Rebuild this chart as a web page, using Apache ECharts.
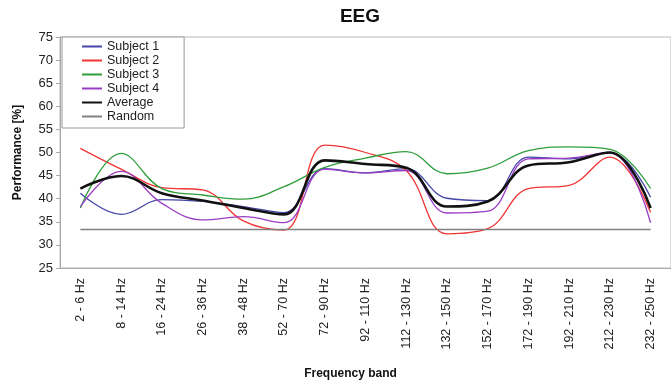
<!DOCTYPE html>
<html><head><meta charset="utf-8">
<script src="https://cdn.jsdelivr.net/npm/echarts@6/dist/echarts.min.js"></script>
<style>html,body{margin:0;padding:0;background:#fff}#c{width:671px;height:385px}</style>
</head><body><div id="c"></div>
<script>
const categories = ['2 - 6 Hz','8 - 14 Hz','16 - 24 Hz','26 - 36 Hz','38 - 48 Hz','52 - 70 Hz','72 - 90 Hz','92 - 110 Hz','112 - 130 Hz','132 - 150 Hz','152 - 170 Hz','172 - 190 Hz','192 - 210 Hz','212 - 230 Hz','232 - 250 Hz'];
const subject1 = [41.2, 36.6, 39.8, 39.4, 38.3, 37.0, 46.5, 45.6, 46.5, 40.1, 39.6, 49.0, 48.6, 50.0, 40.3];
const subject2 = [50.9, 46.4, 42.4, 41.9, 35.2, 33.2, 51.6, 50.0, 46.1, 32.4, 33.5, 42.2, 42.9, 49.0, 37.0];
const subject3 = [38.0, 49.8, 42.2, 40.8, 39.9, 42.6, 46.8, 48.8, 50.2, 45.4, 46.6, 50.4, 51.2, 50.7, 42.2];
const subject4 = [38.3, 45.9, 39.0, 35.4, 36.1, 34.8, 46.4, 45.6, 46.1, 36.9, 37.3, 48.6, 48.8, 50.0, 34.8];
const average  = [42.2, 44.9, 41.2, 39.6, 38.0, 36.6, 48.3, 47.5, 46.7, 38.3, 39.4, 47.2, 47.9, 50.0, 38.0];
const random   = [33.33, 33.33, 33.33, 33.33, 33.33, 33.33, 33.33, 33.33, 33.33, 33.33, 33.33, 33.33, 33.33, 33.33, 33.33];
const yTicks = {min: 25, max: 75, interval: 5};

const chart = echarts.init(document.getElementById('c'));
function line(name, data, color, width, smooth) {
  return {name, type: 'line', data, smooth: smooth, symbol: 'none', showSymbol: false,
    lineStyle: {color, width}, itemStyle: {color}, z: name === 'Average' ? 5 : 3};
}
chart.setOption({
  animation: false,
  backgroundColor: '#fff',
  textStyle: {fontFamily: 'Liberation Sans, Arial, sans-serif'},
  title: {text: 'EEG', left: 355, textAlign: 'center', top: 2,
    textStyle: {fontSize: 19, fontWeight: 'bold', color: '#111', fontFamily: 'Liberation Sans, Arial, sans-serif'}},
  legend: {
    orient: 'vertical', left: 62, top: 37, padding: [3, 25, 5, 19],
    itemWidth: 20, itemHeight: 12, itemGap: 1,
    itemStyle: {opacity: 0},
    backgroundColor: '#fff', borderColor: '#999', borderWidth: 1,
    textStyle: {fontSize: 12.5, color: '#222', lineHeight: 12},
    data: ['Subject 1', 'Subject 2', 'Subject 3', 'Subject 4', 'Average', 'Random']
  },
  grid: {left: 60, top: 37, right: -10, bottom: 111, show: true, borderColor: '#bbb', borderWidth: 1},
  xAxis: {
    type: 'category', data: categories, boundaryGap: true,
    name: 'Frequency band', nameLocation: 'middle', nameGap: 100,
    nameTextStyle: {fontSize: 12, fontWeight: 'bold', color: '#111', padding: [0, 30, 0, 0]},
    axisLine: {lineStyle: {color: '#aaa'}},
    axisTick: {alignWithLabel: false, length: 4, lineStyle: {color: '#aaa'}},
    axisLabel: {rotate: 90, fontSize: 12.5, color: '#222', margin: 10, interval: 0}
  },
  yAxis: {
    type: 'value', min: yTicks.min, max: yTicks.max, interval: yTicks.interval,
    name: 'Performance [%]', nameLocation: 'middle', nameGap: 36,
    nameTextStyle: {fontSize: 12, fontWeight: 'bold', color: '#111'},
    axisLine: {show: true, lineStyle: {color: '#aaa'}},
    axisTick: {show: true, length: 4, lineStyle: {color: '#aaa'}},
    splitLine: {show: false},
    axisLabel: {fontSize: 13, color: '#222', margin: 7}
  },
  series: [
    line('Subject 1', subject1, '#4545a8', 1.3, 0.4),
    line('Subject 2', subject2, '#f03535', 1.3, 0.4),
    line('Subject 3', subject3, '#2f9e3a', 1.3, 0.4),
    line('Subject 4', subject4, '#9a3dc4', 1.3, 0.4),
    line('Average', average, '#111111', 2.6, 0.4),
    line('Random', random, '#808080', 1.6, false)
  ]
});
</script></body></html>
